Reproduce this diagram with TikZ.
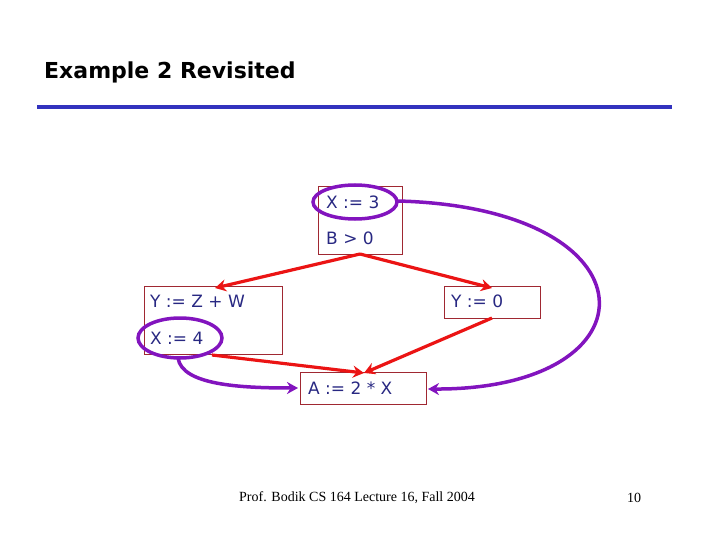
\documentclass[tikz,border=0pt]{standalone}
\usepackage{fontspec}
\setmainfont{DejaVu Sans}
\newfontfamily\footfont{Liberation Serif}
\usetikzlibrary{positioning,arrows.meta}
\definecolor{txtblue}{RGB}{40,40,130}
\definecolor{boxred}{RGB}{160,40,50}
\definecolor{arrred}{RGB}{235,20,20}
\definecolor{purp}{RGB}{130,20,190}
\definecolor{rule}{RGB}{50,50,190}
\tikzset{
  stm/.style={text=txtblue,font=\fontsize{17}{20}\selectfont,anchor=west,inner sep=1pt},
  flow/.style={draw=arrred,line width=3.2pt,-{Stealth[length=11pt,width=12pt]}},
  ring/.style={draw=purp,line width=3.5pt},
  use/.style={draw=purp,line width=3.5pt,-{Stealth[length=11pt,width=12pt]}}
}
\begin{document}
\begin{tikzpicture}[x=1pt,y=-1pt]
	\useasboundingbox (0,0) rectangle (720,540);
	%title
	\node[anchor=west,font=\fontsize{22}{26}\selectfont\bfseries,inner sep=0pt] (title) at (44,72) {Example 2 Revisited};
	\draw[rule,line width=4pt] (37,107) -- (672,107);
	%blocks
	\draw[boxred] (318,186) rectangle (402,254);
	\draw[boxred] (144,286) rectangle (282,354);
	\draw[boxred] (444,286) rectangle (540,318);
	\draw[boxred] (300,372) rectangle (426,404);
	\coordinate (top) at (360,254);
	\coordinate (left) at (215,288);
	\coordinate (right) at (492,288);
	\coordinate (rightout) at (492,318);
	\coordinate (leftout) at (212,355);
	\coordinate (bot) at (364,373);
	%statements
	\node[stm] (x3) at (325,202) {X := 3};
	\node[stm] (b) at (325,238) {B > 0};
	\node[stm] (yzw) at (149,301) {Y := Z + W};
	\node[stm] (x4) at (149,338) {X := 4};
	\node[stm] (y0) at (450,301) {Y := 0};
	\node[stm] (a) at (307,388) {A := 2 * X};
	%edges
	\draw[flow] (top) -- (left);
	\draw[flow] (top) -- (right);
	\draw[flow] (leftout) -- (bot);
	\draw[flow] (rightout) -- (bot);
	%def-use
	\draw[ring] (355,202) ellipse (42 and 17);
	\draw[ring] (180,338) ellipse (42 and 20);
	\draw[use] (398,201) .. controls (660,208) and (660,390) .. (428,389);
	\draw[use] (178,358) .. controls (182,385) and (240,388) .. (298,388);
	%footer
	\node[font=\footfont\fontsize{14}{16}\selectfont,inner sep=0pt] (foot) at (357,498) {Prof. Bodik  CS 164  Lecture 16, Fall 2004};
	\node[font=\footfont\fontsize{14}{16}\selectfont,inner sep=0pt] (page) at (634,498) {10};
\end{tikzpicture}
\end{document}
